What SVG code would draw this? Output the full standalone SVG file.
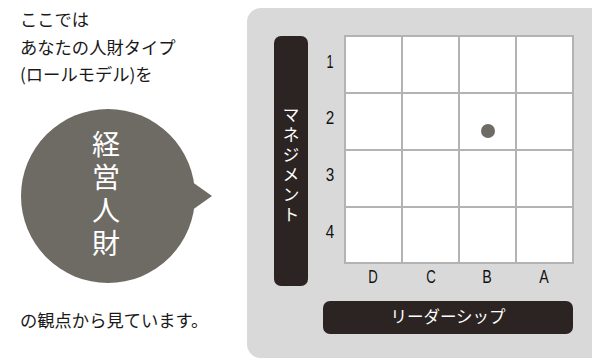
<svg xmlns="http://www.w3.org/2000/svg" width="592" height="360" viewBox="0 0 592 360">
<style>
.jp{font-family:"Noto Sans CJK JP","Noto Sans",sans-serif;font-weight:400;}
.body{font-size:17.3px;fill:#1a1a1a;}
.num{font-family:"Liberation Sans",sans-serif;font-size:18px;fill:#111;text-anchor:middle;}
.cell{fill:#fff;stroke:#b3b3b3;stroke-width:2;}
.bar{fill:#2b2422;}
.wt{fill:#fff;}
</style>
<rect width="592" height="360" fill="#fff"/>
<g id="intro-text" class="jp body">
<text x="20" y="26">ここでは</text>
<text x="20" y="54">あなたの人財タイプ</text>
<text x="20" y="81">(ロールモデル)を</text>
</g>
<g id="bubble">
<circle cx="108" cy="196" r="87" fill="#6e6a64"/>
<polygon points="188,179 212,196 188,213" fill="#6e6a64"/>
<text class="jp wt" x="106" y="196" font-size="28" letter-spacing="5" text-anchor="middle" style="writing-mode:vertical-rl">経営人財</text>
</g>
<g id="outro-text" class="jp body">
<text x="20" y="327">の観点から見ています。</text>
</g>
<g id="panel">
<rect x="247" y="8" width="360" height="350" rx="14" fill="#d9d9d9"/>
</g>
<g id="grid">
<rect class="cell" x="345" y="36" width="57" height="57"/>
<rect class="cell" x="402" y="36" width="57" height="57"/>
<rect class="cell" x="459" y="36" width="57" height="57"/>
<rect class="cell" x="516" y="36" width="57" height="57"/>
<rect class="cell" x="345" y="93" width="57" height="57"/>
<rect class="cell" x="402" y="93" width="57" height="57"/>
<rect class="cell" x="459" y="93" width="57" height="57"/>
<rect class="cell" x="516" y="93" width="57" height="57"/>
<rect class="cell" x="345" y="150" width="57" height="57"/>
<rect class="cell" x="402" y="150" width="57" height="57"/>
<rect class="cell" x="459" y="150" width="57" height="57"/>
<rect class="cell" x="516" y="150" width="57" height="57"/>
<rect class="cell" x="345" y="207" width="57" height="56"/>
<rect class="cell" x="402" y="207" width="57" height="56"/>
<rect class="cell" x="459" y="207" width="57" height="56"/>
<rect class="cell" x="516" y="207" width="57" height="56"/>
</g>
<g id="marker">
<circle cx="488" cy="131" r="7" fill="#6e6a64"/>
</g>
<g id="row-labels" class="num">
<text x="330" y="68" textLength="7" lengthAdjust="spacingAndGlyphs">1</text>
<text x="330" y="124" textLength="8.5" lengthAdjust="spacingAndGlyphs">2</text>
<text x="330" y="181" textLength="8.5" lengthAdjust="spacingAndGlyphs">3</text>
<text x="330" y="238" textLength="8.5" lengthAdjust="spacingAndGlyphs">4</text>
</g>
<g id="col-labels" class="num">
<text x="373" y="283" textLength="9.5" lengthAdjust="spacingAndGlyphs">D</text>
<text x="431" y="283" textLength="9.5" lengthAdjust="spacingAndGlyphs">C</text>
<text x="487" y="283" textLength="9.5" lengthAdjust="spacingAndGlyphs">B</text>
<text x="544" y="283" textLength="9.5" lengthAdjust="spacingAndGlyphs">A</text>
</g>
<g id="management-bar">
<rect class="bar" x="274" y="36" width="34" height="250" rx="7"/>
<text class="jp wt" x="291" y="166" font-size="17" letter-spacing="3" text-anchor="middle" style="writing-mode:vertical-rl">マネジメント</text>
</g>
<g id="leadership-bar">
<rect class="bar" x="323" y="301" width="250" height="33" rx="7"/>
<text class="jp wt" x="448" y="323" font-size="16.5" text-anchor="middle">リーダーシップ</text>
</g>
<g id="connectors"/>
</svg>
